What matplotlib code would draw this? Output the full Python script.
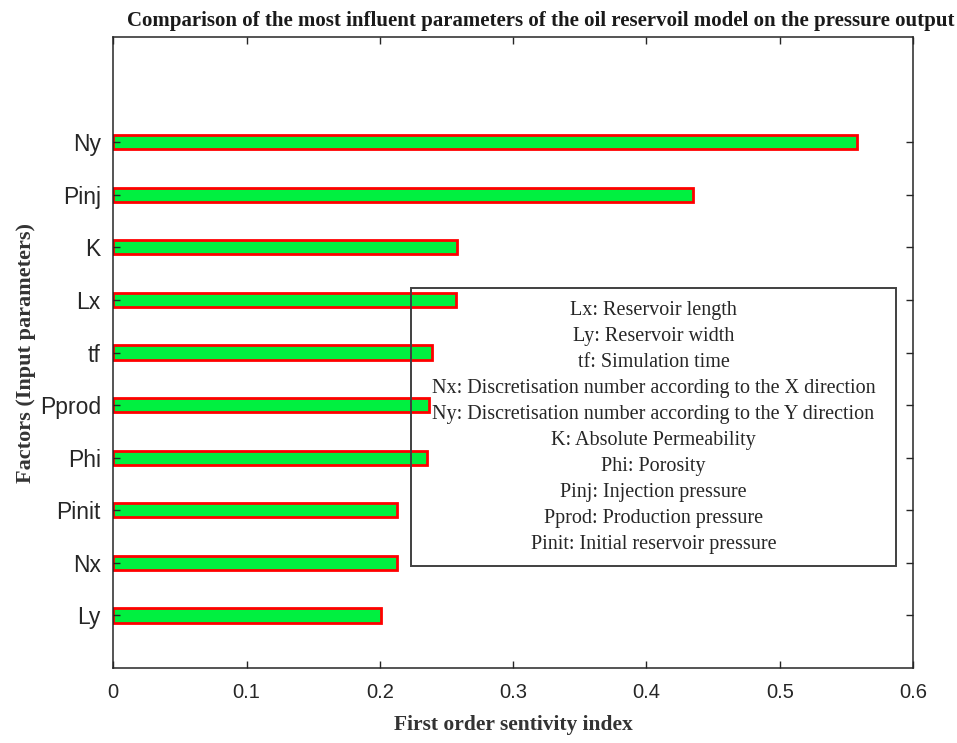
import matplotlib
matplotlib.use("Agg")
import numpy as np
from matplotlib import pyplot as plt
from matplotlib.patches import Rectangle

# first order Sobol indices, bottom to top
factors = ["Ly", "Nx", "Pinit", "Phi", "Pprod", "tf", "Lx", "K", "Pinj", "Ny"]
indices = [0.201, 0.213, 0.213, 0.235, 0.237, 0.239, 0.257, 0.258, 0.435, 0.558]

xticks = [0, 0.1, 0.2, 0.3, 0.4, 0.5, 0.6]
xtick_labels = ["0", "0.1", "0.2", "0.3", "0.4", "0.5", "0.6"]

legend_lines = [
    "Lx: Reservoir length",
    "Ly: Reservoir width",
    "tf: Simulation time",
    "Nx: Discretisation number according to the X direction",
    "Ny: Discretisation number according to the Y direction",
    "K: Absolute Permeability",
    "Phi: Porosity",
    "Pinj: Injection pressure",
    "Pprod: Production pressure",
    "Pinit: Initial reservoir pressure",
]

axis_col = "#262626"
serif = ["Liberation Serif", "DejaVu Serif"]
sans = ["Liberation Sans", "DejaVu Sans"]

fig = plt.figure(figsize=(9.57, 7.43), dpi=100)
ax = fig.add_axes([0.1184, 0.1009, 0.8356, 0.8493])
ax.set_axisbelow(False)

pos = np.arange(1, len(factors) + 1)
ax.barh(pos, indices, height=0.27, color="#00F040", edgecolor="#FF0000",
        linewidth=2.0, zorder=2)

ax.set_xlim(0, 0.6)
ax.set_ylim(0, 12)
ax.set_xticks(xticks)
ax.set_xticklabels(xtick_labels, family=sans, fontsize=14.5, color=axis_col)
ax.set_yticks(pos)
ax.set_yticklabels(factors, family=sans, fontsize=16.5, color=axis_col)
ax.tick_params(direction="in", length=5, width=1, color=axis_col,
               top=True, right=True)
ax.tick_params(axis="x", pad=11)
ax.tick_params(axis="y", pad=9)
for s in ax.spines.values():
    s.set_color(axis_col)
    s.set_linewidth(1.1)

ax.set_title("Comparison of the most influent parameters of the oil reservoil model on the pressure output",
             family=serif, fontweight="bold", fontsize=15, color="#1a1a1a",
             x=0.535, pad=8)
ax.set_xlabel("First order sentivity index", family=serif, fontweight="bold",
              fontsize=15.5, color="#333333", labelpad=9)
ax.set_ylabel("Factors (Input parameters)", family=serif, fontweight="bold",
              fontsize=16, color="#333333", labelpad=3)

# explanation box over the bars (no fill)
ax.add_patch(Rectangle((0.3723, 0.1616), 0.6065, 0.4406, transform=ax.transAxes,
                       fill=False, edgecolor="#404040", linewidth=1.4, zorder=5))
for i, line in enumerate(legend_lines):
    y = (668 - (310 + 26.0 * i)) / 631
    ax.text(0.6755, y, line, transform=ax.transAxes, ha="center", va="center",
            family=serif, fontsize=14.5, color="#262626", zorder=6)

fig.savefig("out.png", dpi=100)
